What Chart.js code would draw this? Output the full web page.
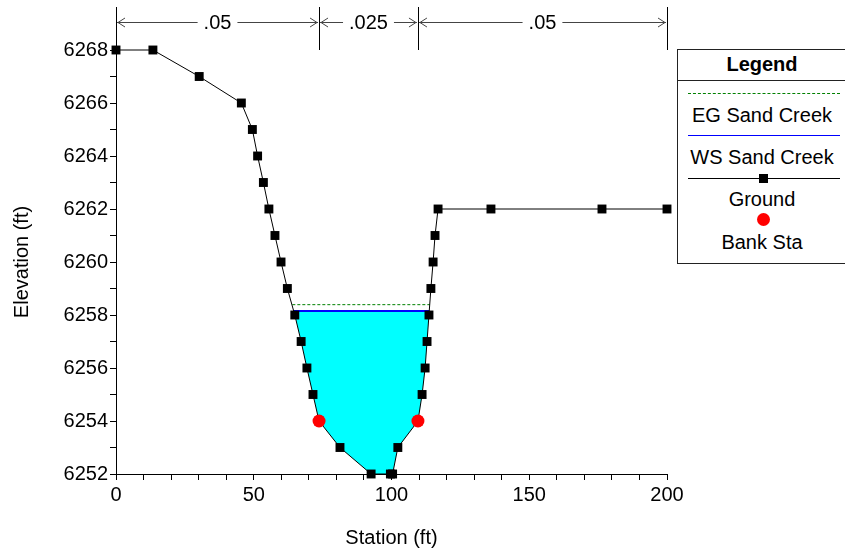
<!DOCTYPE html>
<html>
<head>
<meta charset="utf-8">
<script src="https://cdn.jsdelivr.net/npm/chart.js@4"></script>
<style>
  body { margin: 0; background: #fff; font-family: "Liberation Sans", Arial, sans-serif; }
  #wrap { position: relative; width: 845px; height: 557px; }
  #legend { position: absolute; left: 677px; top: 49px; width: 170px; height: 213px; border: 1px solid #222; background: #fff; }
  #legend .t { position: absolute; left: 0; width: 168px; text-align: center; font-size: 20px; line-height: 22px; }
  #legend .ln { position: absolute; left: 10px; width: 152px; height: 0; }
</style>
</head>
<body>
<div id="wrap">
  <canvas id="xs" width="845" height="557"></canvas>
  <div id="legend">
    <div class="t" style="top:3px;font-weight:bold;">Legend</div>
    <div style="position:absolute;left:0;top:30px;width:168px;border-top:1px solid #222;"></div>
    <div class="ln" style="top:43px;border-top:1px dashed #008000;"></div>
    <div class="t" style="top:54px;">EG Sand Creek</div>
    <div class="ln" style="top:85px;border-top:1px solid #0000ff;"></div>
    <div class="t" style="top:96px;">WS Sand Creek</div>
    <div class="ln" style="top:128px;border-top:1px solid #000;"></div>
    <div style="position:absolute;left:81px;top:124px;width:9px;height:9px;background:#000;"></div>
    <div class="t" style="top:138px;">Ground</div>
    <div style="position:absolute;left:79px;top:163px;width:13px;height:13px;border-radius:50%;background:#ff0000;"></div>
    <div class="t" style="top:181px;">Bank Sta</div>
  </div>
</div>
<script>
// ground survey
const stations = [0, 13.4, 30.2, 45.5, 49.5, 51.4, 53.5, 55.5, 57.7, 59.9, 62.2, 64.9, 67.2, 69.3, 71.5, 73.7, 81.3, 92.6, 99.6, 100.4, 102.3, 109.6, 111.1, 112.2, 112.9, 113.6, 114.3, 115.1, 115.8, 116.9, 136.1, 176.4, 200];
const elevations = [6268, 6268, 6267, 6266, 6265, 6264, 6263, 6262, 6261, 6260, 6259, 6258, 6257, 6256, 6255, 6254, 6253, 6252, 6252, 6252, 6253, 6254, 6255, 6256, 6257, 6258, 6259, 6260, 6261, 6262, 6262, 6262, 6262];

// bank stations
const bankSta = [73.7, 109.6];
const bankElev = [6254, 6254];

// water surface and energy grade
const wsElev = 6258.15;
const wsExtent = [64.5, 113.7];
const egElev = 6258.39;
const egExtent = [64.0, 113.9];

// manning's n
const nBreaks = [0, 73.7, 109.6, 200];
const nValues = ['.05', '.025', '.05'];

const ground = stations.map((s, i) => ({x: s, y: elevations[i]}));
const banks = bankSta.map((s, i) => ({x: s, y: bankElev[i]}));

const water = [{x: wsExtent[0], y: wsElev}];
ground.forEach(p => {
    if (p.x > wsExtent[0] && p.x < wsExtent[1]) water.push(p);
});
water.push({x: wsExtent[1], y: wsElev});

const FONT = {family: "'Liberation Sans', Arial, sans-serif", size: 20};

// n value arrows above the plot
const nPlugin = {
    id: 'nvalues',
    afterDraw(chart) {
        const ctx = chart.ctx;
        const xs = chart.scales.x;
        const top = 7, bottom = chart.chartArea.top, yArrow = 22;
        ctx.save();
        ctx.strokeStyle = '#000';
        ctx.lineWidth = 1;
        ctx.font = '20px "Liberation Sans", Arial, sans-serif';
        ctx.textAlign = 'center';
        ctx.textBaseline = 'middle';
        nBreaks.forEach(b => {
            const px = Math.round(xs.getPixelForValue(b)) + 0.5;
            ctx.beginPath();
            ctx.moveTo(px, top);
            ctx.lineTo(px, bottom);
            ctx.stroke();
        });
        for (let i = 0; i < nValues.length; i++) {
            const a = xs.getPixelForValue(nBreaks[i]);
            const b = xs.getPixelForValue(nBreaks[i + 1]);
            const mid = (a + b) / 2;
            const w = ctx.measureText(nValues[i]).width / 2 + 6;
            ctx.strokeStyle = '#444';
            ctx.beginPath();
            ctx.moveTo(a + 1, yArrow + 0.5);
            ctx.lineTo(mid - w, yArrow + 0.5);
            ctx.moveTo(mid + w, yArrow + 0.5);
            ctx.lineTo(b - 1, yArrow + 0.5);
            // arrow heads
            ctx.moveTo(a + 9, yArrow - 4);
            ctx.lineTo(a + 2, yArrow + 0.5);
            ctx.lineTo(a + 9, yArrow + 5);
            ctx.moveTo(b - 9, yArrow - 4);
            ctx.lineTo(b - 2, yArrow + 0.5);
            ctx.lineTo(b - 9, yArrow + 5);
            ctx.stroke();
            ctx.fillStyle = '#000';
            ctx.fillText(nValues[i], mid, yArrow + 1);
        }
        ctx.restore();
    }
};

new Chart(document.getElementById('xs'), {
    type: 'scatter',
    data: {
        datasets: [
            {
                label: 'Bank Sta',
                data: banks,
                pointStyle: 'circle',
                pointRadius: 6.5,
                backgroundColor: '#ff0000',
                borderColor: '#ff0000',
                borderWidth: 0,
                showLine: false,
                clip: false
            },
            {
                label: 'Ground',
                data: ground,
                showLine: true,
                borderColor: '#000',
                borderWidth: 1,
                pointStyle: 'rect',
                pointRadius: 6.3,
                backgroundColor: '#000',
                pointBorderWidth: 0,
                tension: 0,
                clip: false
            },
            {
                label: 'WS Sand Creek',
                data: [{x: wsExtent[0], y: wsElev}, {x: wsExtent[1], y: wsElev}],
                showLine: true,
                borderColor: '#0000ff',
                borderWidth: 2,
                pointRadius: 0
            },
            {
                label: 'EG Sand Creek',
                data: [{x: egExtent[0], y: egElev}, {x: egExtent[1], y: egElev}],
                showLine: true,
                borderColor: '#008000',
                borderWidth: 1,
                borderDash: [3, 2],
                pointRadius: 0
            },
            {
                label: 'water',
                data: water,
                showLine: true,
                borderWidth: 0,
                borderColor: 'rgba(0,0,0,0)',
                backgroundColor: '#00ffff',
                pointRadius: 0,
                fill: {value: wsElev}
            }
        ]
    },
    options: {
        responsive: false,
        animation: false,
        events: [],
        layout: {padding: {left: 0, top: 50, right: 178, bottom: 0}},
        plugins: {
            legend: {display: false},
            tooltip: {enabled: false}
        },
        scales: {
            x: {
                type: 'linear',
                min: 0,
                max: 200,
                afterFit: s => { s.height = 83; },
                border: {display: true, color: '#000', width: 1},
                grid: {drawOnChartArea: false, drawTicks: true, tickLength: 6, color: '#000'},
                ticks: {
                    stepSize: 10,
                    autoSkip: false,
                    maxRotation: 0,
                    padding: 3,
                    color: '#000',
                    font: FONT,
                    callback: v => (v % 50 === 0 ? v : '')
                },
                title: {display: true, text: 'Station (ft)', color: '#000', font: FONT, padding: {top: 0, bottom: 7}}
            },
            y: {
                min: 6252,
                max: 6268,
                afterFit: s => { s.width = 116; },
                border: {display: true, color: '#000', width: 1},
                grid: {drawOnChartArea: false, drawTicks: true, tickLength: 6, color: '#000'},
                ticks: {
                    stepSize: 1,
                    autoSkip: false,
                    padding: 2,
                    color: '#000',
                    font: FONT,
                    callback: v => (v % 2 === 0 ? String(v) : '')
                },
                title: {display: true, text: 'Elevation (ft)', color: '#000', font: FONT, padding: {top: 10, bottom: 0}}
            }
        }
    },
    plugins: [nPlugin]
});
</script>
</body>
</html>
